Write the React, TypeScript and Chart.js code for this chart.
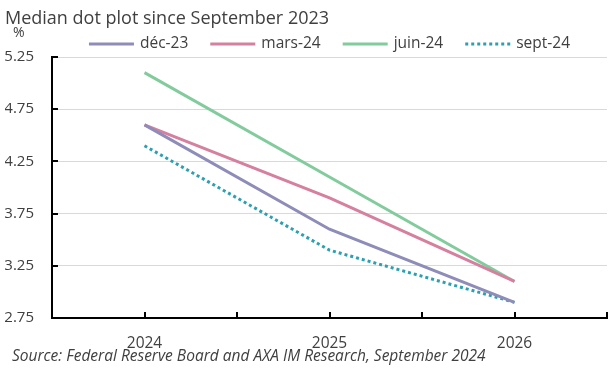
import React, { useEffect, useRef } from "react";
import { Chart, registerables } from "chart.js";

Chart.register(...registerables);

const categories = ["2024", "2025", "2026"];
const dec23 = [4.6, 3.6, 2.9];
const mars24 = [4.6, 3.9, 3.1];
const juin24 = [5.1, 4.1, 3.1];
const sept24 = [4.4, 3.4, 2.9];
const seriesLabels = ["déc-23", "mars-24", "juin-24", "sept-24"];
const yTicks = [2.75, 3.25, 3.75, 4.25, 4.75, 5.25];
const titleText = "Median dot plot since September 2023";
const unitText = "%";
const sourceText = "Source: Federal Reserve Board and AXA IM Research, September 2024";

const FONT = "'Open Sans', 'Noto Sans', sans-serif";
const TEXT = "#404040";

const extrasPlugin = {
  id: "extras",
  beforeDatasetsDraw(chart: any) {
    const { ctx, chartArea, scales } = chart;
    const x = scales.x;
    const y = scales.y;
    ctx.save();
    ctx.strokeStyle = "#000";
    ctx.lineWidth = 2;
    yTicks.forEach((v) => {
      const py = Math.round(y.getPixelForValue(v));
      ctx.beginPath();
      ctx.moveTo(chartArea.left, py);
      ctx.lineTo(chartArea.left + 6, py);
      ctx.stroke();
    });
    const n = categories.length;
    const pos: number[] = [];
    for (let i = 0; i < n; i++) {
      pos.push(x.getPixelForValue(i));
      pos.push(x.getPixelForValue(i + 0.5));
    }
    pos.forEach((px) => {
      const rx = Math.round(px);
      ctx.beginPath();
      ctx.moveTo(rx, chartArea.bottom);
      ctx.lineTo(rx, chartArea.bottom - 6);
      ctx.stroke();
    });
    ctx.restore();
  },
  afterDraw(chart: any) {
    const { ctx, chartArea } = chart;
    ctx.save();
    ctx.fillStyle = TEXT;
    ctx.textBaseline = "middle";
    ctx.textAlign = "left";
    ctx.font = `14px ${FONT}`;
    ctx.fillText(unitText, 13, 33);
    ctx.font = `italic 15.5px ${FONT}`;
    ctx.fillText(sourceText, 12, 357);

    // legend
    const lineLen = 45;
    const gap = 6;
    const spacing = 22;
    ctx.font = `15.5px ${FONT}`;
    const dsets = chart.data.datasets;
    const widths = dsets.map((d: any) => ctx.measureText(d.label).width);
    const total =
      widths.reduce((a: number, b: number) => a + b, 0) +
      dsets.length * (lineLen + gap) +
      (dsets.length - 1) * spacing;
    let cx = (chartArea.left + chartArea.right) / 2 - total / 2;
    const ly = 44;
    dsets.forEach((d: any, i: number) => {
      ctx.save();
      ctx.strokeStyle = d.borderColor;
      ctx.lineWidth = d.borderWidth;
      ctx.setLineDash(d.borderDash || []);
      ctx.beginPath();
      ctx.moveTo(cx, ly);
      ctx.lineTo(cx + lineLen, ly);
      ctx.stroke();
      ctx.restore();
      cx += lineLen + gap;
      ctx.fillStyle = TEXT;
      ctx.fillText(d.label, cx, ly);
      cx += widths[i] + spacing;
    });
    ctx.restore();
  },
};

export default function App() {
  const ref = useRef<HTMLCanvasElement | null>(null);
  useEffect(() => {
    document.body.style.margin = "0";
    const ds = (label: string, data: number[], color: string, dash: number[] = []) => ({
      label,
      data,
      borderColor: color,
      backgroundColor: color,
      borderWidth: 3,
      borderDash: dash,
      pointRadius: 0,
      pointHoverRadius: 0,
      tension: 0,
      fill: false,
    });
    const chart = new Chart(ref.current as HTMLCanvasElement, {
      type: "line",
      data: {
        labels: categories,
        datasets: [
          ds(seriesLabels[0], dec23, "#8e8cb8"),
          ds(seriesLabels[1], mars24, "#d6809f"),
          ds(seriesLabels[2], juin24, "#82cb9c"),
          ds(seriesLabels[3], sept24, "#2aa0b0", [3, 3]),
        ],
      },
      options: {
        responsive: false,
        animation: false,
        layout: { padding: { left: 5, top: 0, right: 8, bottom: 0 } },
        plugins: {
          tooltip: { enabled: false },
          legend: { display: false },
          title: {
            display: true,
            text: titleText,
            align: "start",
            color: TEXT,
            font: { family: FONT, size: 18, weight: "normal", lineHeight: 1.2 },
            padding: { top: 8, bottom: 27.4 },
          },
        },
        scales: {
          x: {
            type: "category",
            offset: true,
            grid: { display: false, drawTicks: false },
            border: { display: true, color: "#000", width: 2 },
            ticks: {
              color: TEXT,
              padding: 16,
              font: { family: FONT, size: 15.5 },
              maxRotation: 0,
            },
            afterFit: (s: any) => {
              s.height = 61;
            },
          },
          y: {
            type: "linear",
            min: 2.75,
            max: 5.25,
            grid: { color: "#d9d9d9", lineWidth: 1, drawTicks: false },
            border: { display: true, color: "#000", width: 2 },
            ticks: {
              stepSize: 0.5,
              color: TEXT,
              padding: 18,
              font: { family: FONT, size: 15 },
              callback: (v: any) => Number(v).toFixed(2),
            },
            afterFit: (s: any) => {
              s.width = 47;
            },
          },
        },
      },
      plugins: [extrasPlugin],
    });
    return () => chart.destroy();
  }, []);
  return (
    <div style={{ position: "fixed", left: 0, top: 0, width: 615, height: 379, background: "#fff" }}>
      <canvas ref={ref} width={615} height={379} />
    </div>
  );
}
